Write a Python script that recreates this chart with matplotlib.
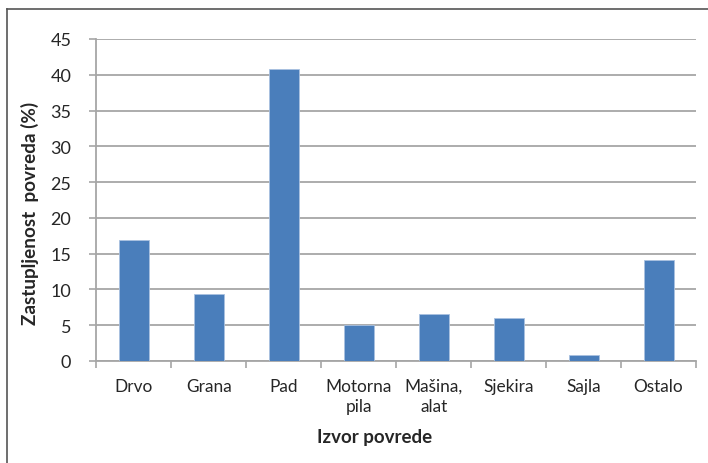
import matplotlib
matplotlib.use("Agg")
import matplotlib.pyplot as plt
from matplotlib.lines import Line2D

plt.rcParams['font.family'] = ['Lato', 'DejaVu Sans']

# Izvori povreda i njihova zastupljenost u %
kategorije = ["Drvo", "Grana", "Pad", "Motorna\npila", "Mašina,\nalat",
              "Sjekira", "Sajla", "Ostalo"]
udio = [16.9, 9.3, 40.85, 5.1, 6.5, 6.05, 0.9, 14.05]
y_ticks = [0, 5, 10, 15, 20, 25, 30, 35, 40, 45]

W, H = 708, 464
left, right, top, bottom = 96.3, 696, 40, 362
fig = plt.figure(figsize=(W / 100, H / 100), dpi=100)
ax = fig.add_axes([left / W, 1 - bottom / H, (right - left) / W, (bottom - top) / H])

x = list(range(len(kategorije)))
ax.bar(x, udio, width=0.4, color="#4a7ebb", edgecolor="#a9c1e0",
       linewidth=0.6, zorder=3)

ax.set_xlim(-0.5, len(kategorije) - 0.5)
ax.set_ylim(0, 45)
ax.set_yticks(y_ticks)
ax.set_xticks(x)
ax.set_xticklabels(kategorije, fontsize=12.4, color="#262626", linespacing=1.3)
ax.set_xticks([i - 0.5 for i in range(len(kategorije) + 1)], minor=True)

grid_c = "#a6a6a6"
ax.yaxis.grid(True, color=grid_c, linewidth=1.3, zorder=0)
for s in ("top", "right"):
    ax.spines[s].set_visible(False)
for s in ("left", "bottom"):
    ax.spines[s].set_color(grid_c)
    ax.spines[s].set_linewidth(1.3)

ax.tick_params(axis="y", length=5, width=1.2, color=grid_c, pad=13,
               labelsize=13, labelcolor="#262626")
ax.tick_params(axis="x", which="major", length=0, pad=12)
ax.tick_params(axis="x", which="minor", length=5, width=1.2, color=grid_c)

ax.set_ylabel("Zastupljenost  povreda (%)", fontsize=13.6, fontweight="bold",
              color="#262626")
ax.yaxis.set_label_coords((39 - left) / (right - left), (bottom - 213) / (bottom - top))
fig.text(375 / W, 1 - 438 / H, "Izvor povrede", fontsize=13.5, fontweight="bold",
         color="#262626", ha="center", va="center")

# okvir grafikona
fig.add_artist(Line2D([7 / W, 7 / W], [0, 1 - 10 / H], transform=fig.transFigure,
                      color="#555555", linewidth=1.2))
fig.add_artist(Line2D([7 / W, 1], [1 - 10 / H, 1 - 10 / H], transform=fig.transFigure,
                      color="#555555", linewidth=1.2))

fig.savefig("out.png", dpi=100)
